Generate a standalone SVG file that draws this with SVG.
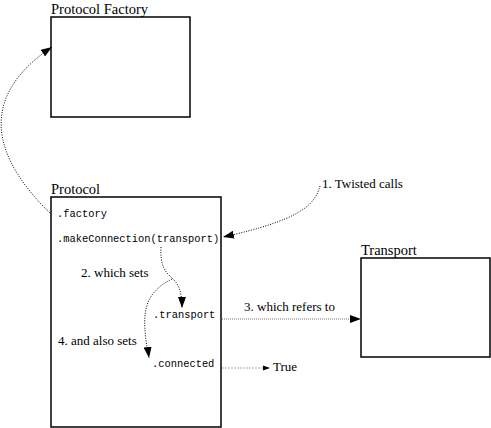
<svg xmlns="http://www.w3.org/2000/svg" width="491" height="428" viewBox="0 0 491 428">
<style>
.title{font-family:"Liberation Serif",serif;font-size:14.5px;fill:#000}
.lbl{font-family:"Liberation Serif",serif;font-size:13px;fill:#000}
.code{font-family:"Liberation Mono",monospace;font-size:10.4px;fill:#000}
.box{fill:#fff;stroke:#000;stroke-width:1.5}
.curve{fill:none;stroke:#000;stroke-width:1;stroke-dasharray:1 1.5}
.straight{fill:none;stroke:#777;stroke-width:1;stroke-dasharray:1 1}
.light{fill:none;stroke:#aaa;stroke-width:1;stroke-dasharray:2 1}
</style>
<defs>
<marker id="ah" markerUnits="userSpaceOnUse" markerWidth="12" markerHeight="8" refX="11" refY="4" orient="auto">
<path d="M0,0 L11,4 L0,8 Z" fill="#000"/>
</marker>
<marker id="ahs" markerUnits="userSpaceOnUse" markerWidth="8" markerHeight="6" refX="7" refY="3" orient="auto">
<path d="M0,0.5 L7,3 L0,5.5 Z" fill="#000"/>
</marker>
</defs>
<g id="factory">
<rect class="box" x="51" y="17" width="139" height="100"/>
<text class="title" x="51" y="14">Protocol Factory</text>
</g>
<g id="protocol">
<rect class="box" x="51" y="197" width="170" height="230" stroke-width="2"/>
<text class="title" x="51" y="194">Protocol</text>
<text class="code" x="57" y="217">.factory</text>
<text class="code" x="57" y="242">.makeConnection(transport)</text>
<text class="code" x="153" y="318">.transport</text>
<text class="code" x="152" y="367">.connected</text>
</g>
<g id="transport">
<rect class="box" x="361" y="258" width="129" height="99"/>
<text class="title" x="361" y="255">Transport</text>
</g>
<g id="labels">
<text class="lbl" x="322" y="188">1. Twisted calls</text>
<text class="lbl" x="81" y="277">2. which sets</text>
<text class="lbl" x="244" y="311">3. which refers to</text>
<text class="lbl" x="58" y="345">4. and also sets</text>
<text class="lbl" x="273" y="371">True</text>
</g>
<g id="connectors">
<path class="curve" d="M50,213 C-25,140 -5,85 52,47" marker-end="url(#ah)"/>
<path class="curve" d="M320,186 C315,205 300,220 223,237" marker-end="url(#ah)"/>
<path class="curve" d="M161,247 C160,265 165,272 172,278 C180,285 182,295 182,308" marker-end="url(#ah)"/>
<path class="curve" d="M172,279 C150,290 143,305 145,330 C146,345 148,350 149,358" marker-end="url(#ah)"/>
<path class="straight" d="M222,319 L361,319" marker-end="url(#ah)"/>
<path class="light" d="M222,368 L270,368" marker-end="url(#ahs)"/>
</g>
</svg>
